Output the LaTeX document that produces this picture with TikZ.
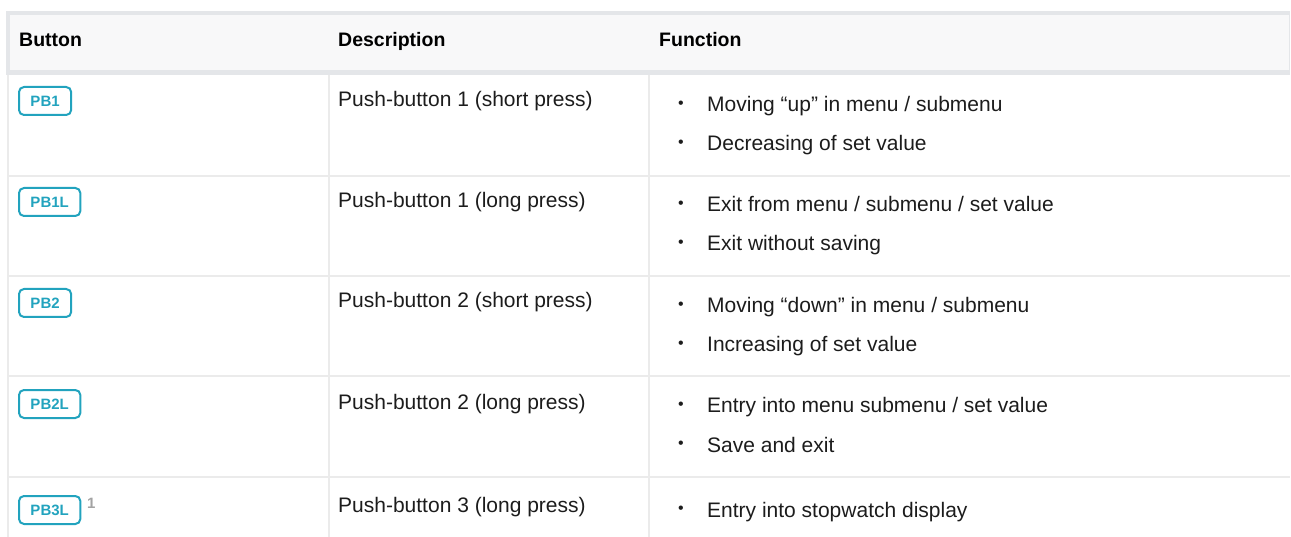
\documentclass[tikz,border=0pt]{standalone}
\usepackage{fontspec}
\setmainfont{Liberation Sans}
\definecolor{bord}{HTML}{E4E6E9}
\definecolor{fond}{HTML}{F8F8F9}
\definecolor{trait}{HTML}{EBEBEB}
\definecolor{turq}{HTML}{22A3BE}
\definecolor{encre}{HTML}{1C1C1C}
\definecolor{note}{HTML}{A3A3A3}
\tikzset{
  entete/.style={anchor=base west, inner sep=0pt, text=black,
    font=\fontsize{19.5}{23}\selectfont\bfseries},
  texte/.style={anchor=base west, inner sep=0pt, text=encre,
    font=\fontsize{21}{25}\selectfont},
  puce/.style={anchor=center, inner sep=0pt, text=encre,
    font=\fontsize{16}{18}\selectfont},
  bouton/.style={draw=turq, line width=2pt, rounded corners=5pt, text=turq,
    font=\fontsize{15}{18}\selectfont\bfseries, anchor=west,
    minimum height=28pt, inner xsep=11.5pt, inner ysep=0pt},
  ligne/.style={draw=trait, line width=1.6pt}
}
\begin{document}
\begin{tikzpicture}[x=1pt,y=-1pt] % ------ Le tableau des boutons -----------------
    \useasboundingbox (0,0) rectangle (1291,537);
    % en-tete
    \fill [bord] (6,11) rectangle (1290,75);
    \fill [fond] (9.5,15) rectangle (1289,70.5);
    \node [entete] (hbouton) at (19,47) {Button};
    \node [entete] (hdesc) at (338,47) {Description};
    \node [entete] (hfonc) at (659,47) {Function};
    % grille
    \draw [ligne] (8,75) -- (8,537);
    \draw [ligne] (329,75) -- (329,537);
    \draw [ligne] (649,75) -- (649,537);
    \foreach \y in {176,276,376,477}
      \draw [ligne] (8,\y) -- (1290,\y);
    % ligne 1
    \node [bouton] (pb1) at (18,101) {PB1};
    \node [texte] (d1) at (338,107) {Push-button 1 (short press)};
    \node [puce] (p1a) at (681,105) {•};
    \node [texte] (f1a) at (707,112) {Moving “up” in menu / submenu};
    \node [puce] (p1b) at (681,144) {•};
    \node [texte] (f1b) at (707,151) {Decreasing of set value};
    % ligne 2
    \node [bouton] (pb1l) at (18,202) {PB1L};
    \node [texte] (d2) at (338,208) {Push-button 1 (long press)};
    \node [puce] (p2a) at (681,205) {•};
    \node [texte] (f2a) at (707,212) {Exit from menu / submenu / set value};
    \node [puce] (p2b) at (681,244) {•};
    \node [texte] (f2b) at (707,251) {Exit without saving};
    % ligne 3
    \node [bouton] (pb2) at (18,303) {PB2};
    \node [texte] (d3) at (338,308) {Push-button 2 (short press)};
    \node [puce] (p3a) at (681,306) {•};
    \node [texte] (f3a) at (707,313) {Moving “down” in menu / submenu};
    \node [puce] (p3b) at (681,345) {•};
    \node [texte] (f3b) at (707,352) {Increasing of set value};
    % ligne 4
    \node [bouton] (pb2l) at (18,404) {PB2L};
    \node [texte] (d4) at (338,409) {Push-button 2 (long press)};
    \node [puce] (p4a) at (681,406) {•};
    \node [texte] (f4a) at (707,413) {Entry into menu submenu / set value};
    \node [puce] (p4b) at (681,445) {•};
    \node [texte] (f4b) at (707,452) {Save and exit};
    % ligne 5
    \node [bouton] (pb3l) at (18,510) {PB3L};
    \node [anchor=base west, inner sep=0pt, text=note,
      font=\fontsize{15}{17}\selectfont\bfseries] (n1) at (87,508) {1};
    \node [texte] (d5) at (338,512) {Push-button 3 (long press)};
    \node [puce] (p5a) at (681,510) {•};
    \node [texte] (f5a) at (707,517) {Entry into stopwatch display};
\end{tikzpicture}
\end{document}
